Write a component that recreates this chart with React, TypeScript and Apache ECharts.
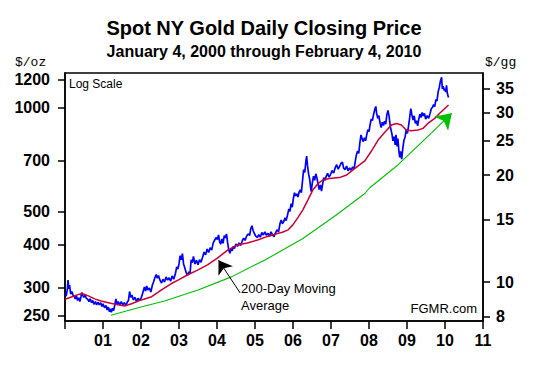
import React, { useEffect, useRef } from "react";
import * as echarts from "echarts";

// Daily closing price ([decimal year, $/oz])
const gold2000 = [[2000.00,289],[2000.03,284],[2000.06,296],[2000.08,316],[2000.10,298],[2000.12,306],[2000.15,288],[2000.18,293],[2000.21,286],[2000.24,284],[2000.27,279],[2000.30,285],[2000.33,276],[2000.36,281],[2000.39,274],[2000.42,283],[2000.44,291],[2000.47,285],[2000.50,282],[2000.53,286],[2000.56,280],[2000.60,278],[2000.63,274],[2000.66,279],[2000.70,272],[2000.73,276],[2000.76,269],[2000.80,274],[2000.83,268],[2000.87,273],[2000.90,268],[2000.94,272],[2000.97,265]];
const gold2001 = [[2001.00,270],[2001.04,263],[2001.08,267],[2001.11,259],[2001.14,264],[2001.17,256],[2001.20,261],[2001.22,255],[2001.25,262],[2001.28,258],[2001.31,268],[2001.34,279],[2001.37,268],[2001.40,274],[2001.44,268],[2001.48,274],[2001.52,268],[2001.56,272],[2001.60,267],[2001.64,273],[2001.67,276],[2001.70,293],[2001.73,282],[2001.76,286],[2001.80,277],[2001.84,282],[2001.88,274],[2001.92,280],[2001.96,276]];
const gold2002 = [[2002.00,280],[2002.03,286],[2002.06,294],[2002.09,302],[2002.12,294],[2002.15,304],[2002.18,296],[2002.22,300],[2002.26,292],[2002.30,306],[2002.33,312],[2002.36,320],[2002.40,328],[2002.43,320],[2002.46,326],[2002.50,316],[2002.54,310],[2002.58,318],[2002.62,312],[2002.66,323],[2002.70,316],[2002.74,321],[2002.78,314],[2002.82,325],[2002.86,318],[2002.90,328],[2002.94,345],[2002.97,340]];
const gold2003 = [[2003.00,352],[2003.03,372],[2003.06,362],[2003.09,377],[2003.12,352],[2003.15,344],[2003.19,332],[2003.22,326],[2003.26,334],[2003.29,330],[2003.32,362],[2003.35,355],[2003.38,370],[2003.42,352],[2003.46,361],[2003.50,350],[2003.54,362],[2003.58,356],[2003.62,368],[2003.66,381],[2003.70,374],[2003.74,389],[2003.78,380],[2003.82,392],[2003.86,386],[2003.90,405],[2003.94,413],[2003.98,420]];
const gold2004 = [[2004.01,414],[2004.04,427],[2004.07,408],[2004.10,402],[2004.13,416],[2004.16,404],[2004.19,425],[2004.22,419],[2004.25,430],[2004.28,405],[2004.31,386],[2004.34,378],[2004.37,390],[2004.40,384],[2004.43,396],[2004.46,390],[2004.50,402],[2004.54,396],[2004.58,405],[2004.62,398],[2004.66,409],[2004.70,418],[2004.74,412],[2004.78,424],[2004.82,430],[2004.86,426],[2004.89,446],[2004.92,454],[2004.95,440],[2004.98,432]];
const gold2005 = [[2005.02,424],[2005.06,420],[2005.10,428],[2005.14,421],[2005.18,434],[2005.22,427],[2005.26,436],[2005.30,426],[2005.34,432],[2005.38,423],[2005.42,436],[2005.46,428],[2005.50,422],[2005.54,433],[2005.58,442],[2005.62,436],[2005.66,462],[2005.69,472],[2005.72,460],[2005.76,468],[2005.79,479],[2005.82,470],[2005.86,490],[2005.89,508],[2005.92,500],[2005.95,526],[2005.98,514]];
const gold2006 = [[2006.01,545],[2006.04,566],[2006.07,554],[2006.10,562],[2006.13,550],[2006.16,568],[2006.19,577],[2006.22,566],[2006.25,612],[2006.28,660],[2006.31,648],[2006.34,700],[2006.36,722],[2006.38,680],[2006.41,642],[2006.44,618],[2006.46,590],[2006.48,570],[2006.51,606],[2006.54,632],[2006.57,615],[2006.60,642],[2006.63,624],[2006.66,600],[2006.69,578],[2006.72,596],[2006.75,572],[2006.78,600],[2006.81,626],[2006.84,614],[2006.87,630],[2006.91,644],[2006.95,628],[2006.99,640]];
const gold2007 = [[2007.03,656],[2007.07,645],[2007.11,668],[2007.15,682],[2007.19,662],[2007.23,676],[2007.27,690],[2007.30,694],[2007.33,668],[2007.37,660],[2007.41,676],[2007.45,655],[2007.49,668],[2007.53,657],[2007.57,672],[2007.61,664],[2007.64,700],[2007.67,730],[2007.70,748],[2007.73,735],[2007.76,790],[2007.79,832],[2007.82,810],[2007.85,796],[2007.88,816],[2007.91,800],[2007.94,832],[2007.97,862]];
const gold2008 = [[2008.00,850],[2008.03,892],[2008.06,926],[2008.09,915],[2008.12,952],[2008.15,985],[2008.18,1006],[2008.20,962],[2008.23,930],[2008.26,946],[2008.29,900],[2008.32,874],[2008.35,905],[2008.38,886],[2008.41,912],[2008.44,894],[2008.47,952],[2008.50,980],[2008.53,940],[2008.55,900],[2008.57,868],[2008.60,842],[2008.63,800],[2008.66,822],[2008.69,778],[2008.71,832],[2008.74,770],[2008.76,812],[2008.79,740],[2008.81,716],[2008.83,746],[2008.86,708],[2008.89,762],[2008.92,802],[2008.95,822],[2008.98,862]];
const gold2009 = [[2009.01,840],[2009.04,882],[2009.07,932],[2009.10,992],[2009.13,950],[2009.16,918],[2009.19,945],[2009.22,898],[2009.25,915],[2009.28,884],[2009.31,925],[2009.34,956],[2009.37,934],[2009.40,966],[2009.43,944],[2009.46,960],[2009.49,924],[2009.53,946],[2009.57,930],[2009.61,962],[2009.64,992],[2009.67,1000],[2009.70,1018],[2009.73,1005],[2009.76,1052],[2009.79,1044],[2009.82,1110],[2009.85,1142],[2009.88,1192],[2009.91,1222],[2009.93,1130],[2009.95,1152],[2009.98,1118]];
const gold2010 = [[2010.00,1132],[2010.02,1108],[2010.04,1158],[2010.06,1100],[2010.08,1080],[2010.093,1068]];

// 200-day moving average
const movingAverage = [[2000.00,278],[2000.15,282],[2000.30,286],[2000.45,289],[2000.60,285],[2000.78,279],[2000.95,275],[2001.14,272],[2001.40,268],[2001.57,266],[2001.75,270],[2002.01,277],[2002.28,283],[2002.54,296],[2002.80,309],[2003.00,317],[2003.22,327],[2003.49,338],[2003.75,350],[2004.01,366],[2004.28,386],[2004.54,400],[2004.80,405],[2005.07,413],[2005.33,423],[2005.59,431],[2005.72,435],[2005.86,441],[2005.99,456],[2006.12,478],[2006.26,505],[2006.39,539],[2006.52,576],[2006.65,600],[2006.78,616],[2006.96,622],[2007.22,626],[2007.41,637],[2007.58,659],[2007.75,681],[2007.89,700],[2008.06,746],[2008.24,804],[2008.41,845],[2008.59,889],[2008.72,898],[2008.85,889],[2008.98,860],[2009.11,856],[2009.29,860],[2009.42,869],[2009.55,898],[2009.73,929],[2009.86,961],[2010.093,1016]];

// Green trend curve and its arrow
const trendLine = [[2001.21,250],[2001.66,258],[2002.10,266],[2002.62,275],[2003.50,296],[2004.38,323],[2005.25,361],[2005.52,375],[2006.26,417],[2007.14,488],[2007.89,563],[2008.02,585],[2008.76,681],[2009.64,842]];
const trendArrow = [[2009.64,842],[2010.18,962]];
// Annotation arrow for the moving average
const maArrow = [[2004.61,290],[2004.04,361]];

const leftTicks = [250, 300, 400, 500, 700, 1000, 1200];
const rightTicks = [8, 10, 15, 20, 25, 30, 35];
const yearRange = [2000, 2011];

const goldPrice = [...gold2000, ...gold2001, ...gold2002, ...gold2003, ...gold2004, ...gold2005, ...gold2006, ...gold2007, ...gold2008, ...gold2009, ...gold2010];

const FONT = '"Liberation Sans", Arial, sans-serif';

export default function App() {
  const ref = useRef<HTMLDivElement>(null);
  useEffect(() => {
    const chart = echarts.init(ref.current!, null, { renderer: "svg" });
    const axisLabelStyle = { color: "#000", fontSize: 16, fontWeight: "bold" as const, fontFamily: FONT };
    const line = { show: true, lineStyle: { color: "#000", width: 1.5 } };
    chart.setOption({
      animation: false,
      backgroundColor: "#fff",
      textStyle: { fontFamily: FONT },
      grid: { left: 65, right: 54, top: 73, bottom: 46, show: true, borderColor: "#000", borderWidth: 1.5 },
      xAxis: {
        type: "value",
        min: yearRange[0],
        max: yearRange[1],
        interval: 1,
        axisLine: line,
        axisTick: { show: true, length: 8, lineStyle: { color: "#000", width: 1.5 } },
        axisLabel: {
          ...axisLabelStyle,
          margin: 11,
          showMinLabel: true,
          showMaxLabel: true,
          formatter: (v: number) => (v === yearRange[0] ? "" : String(v % 100).padStart(2, "0")),
        },
        splitLine: { show: false },
      },
      yAxis: [
        {
          type: "log",
          position: "left",
          min: 240.7,
          max: 1257,
          axisLine: line,
          axisTick: { show: true, length: 7, customValues: leftTicks, lineStyle: { color: "#000", width: 1.5 } },
          axisLabel: { ...axisLabelStyle, margin: 15, customValues: leftTicks, formatter: (v: number) => String(Math.round(v)) },
          splitLine: { show: false },
        },
        {
          type: "log",
          position: "right",
          min: 7.78,
          max: 38.7,
          axisLine: line,
          axisTick: { show: true, length: 7, customValues: rightTicks, lineStyle: { color: "#000", width: 1.5 } },
          axisLabel: { ...axisLabelStyle, margin: 13, customValues: rightTicks, formatter: (v: number) => String(Math.round(v)) },
          splitLine: { show: false },
        },
      ],
      series: [
        {
          type: "line",
          name: "Gold",
          data: goldPrice,
          yAxisIndex: 0,
          showSymbol: false,
          silent: true,
          lineStyle: { color: "#0000FF", width: 1.7 },
          z: 2,
        },
        {
          type: "line",
          name: "200-Day Moving Average",
          data: movingAverage,
          yAxisIndex: 0,
          showSymbol: false,
          silent: true,
          lineStyle: { color: "#CC0033", width: 1.5 },
          z: 3,
          markLine: {
            silent: true,
            symbol: ["none", "arrow"],
            symbolSize: 13,
            label: { show: false },
            lineStyle: { color: "#000", width: 1, type: "solid" },
            data: [[{ coord: maArrow[0] }, { coord: maArrow[1] }]],
          },
        },
        {
          type: "line",
          name: "Trend",
          data: trendLine,
          yAxisIndex: 0,
          showSymbol: false,
          silent: true,
          lineStyle: { color: "#00C000", width: 1.1 },
          z: 3,
          markLine: {
            silent: true,
            symbol: ["none", "arrow"],
            symbolSize: 15,
            label: { show: false },
            lineStyle: { color: "#00C000", width: 1.1, type: "solid" },
            data: [[{ coord: trendArrow[0] }, { coord: trendArrow[1] }]],
          },
        },
      ],
      graphic: [
        { type: "text", x: 264, y: 28, style: { text: "Spot NY Gold Daily Closing Price", font: `bold 20px ${FONT}`, fill: "#000", align: "center", verticalAlign: "middle" } },
        { type: "text", x: 264, y: 51, style: { text: "January 4, 2000 through February 4, 2010", font: `bold 16px ${FONT}`, fill: "#000", align: "center", verticalAlign: "middle" } },
        { type: "text", x: 15, y: 62, style: { text: "$/oz", font: `13px "Liberation Mono", monospace`, fill: "#000", align: "left", verticalAlign: "middle" } },
        { type: "text", x: 485, y: 62, style: { text: "$/gg", font: `13px "Liberation Mono", monospace`, fill: "#000", align: "left", verticalAlign: "middle" } },
        { type: "text", x: 69, y: 84, style: { text: "Log Scale", font: `12px ${FONT}`, fill: "#000", align: "left", verticalAlign: "middle" } },
        { type: "text", x: 477, y: 308, style: { text: "FGMR.com", font: `13px ${FONT}`, fill: "#000", align: "right", verticalAlign: "middle" } },
        { type: "text", x: 241, y: 288, style: { text: "200-Day Moving", font: `13px ${FONT}`, fill: "#000", align: "left", verticalAlign: "middle" } },
        { type: "text", x: 241, y: 305, style: { text: "Average", font: `13px ${FONT}`, fill: "#000", align: "left", verticalAlign: "middle" } },
      ],
    });
    return () => chart.dispose();
  }, []);
  return <div ref={ref} style={{ position: "fixed", left: 0, top: 0, width: 537, height: 367, background: "#fff" }} />;
}
